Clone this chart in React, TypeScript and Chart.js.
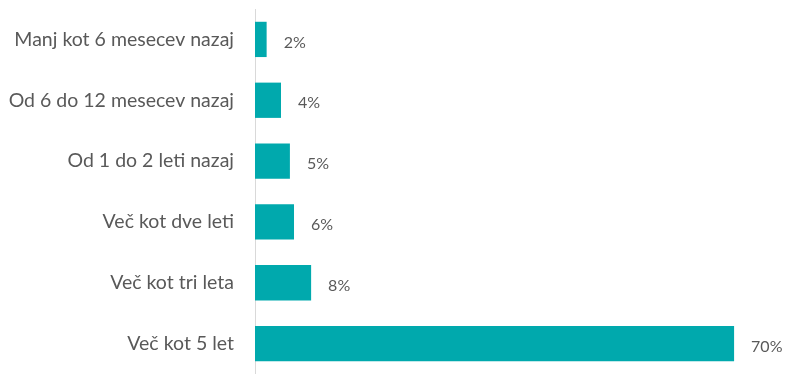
import React, { useEffect, useRef } from "react";
import { Chart, registerables } from "chart.js";

Chart.register(...registerables);

const categories = [
  "Manj kot 6 mesecev nazaj",
  "Od 6 do 12 mesecev nazaj",
  "Od 1 do 2 leti nazaj",
  "Več kot dve leti",
  "Več kot tri leta",
  "Več kot 5 let",
];
const values = [1.7, 3.8, 5.1, 5.7, 8.2, 70];
const valueLabels = ["2%", "4%", "5%", "6%", "8%", "70%"];

const labelPlugin = {
  id: "barLabels",
  afterDatasetsDraw(chart: any) {
    const { ctx } = chart;
    const meta = chart.getDatasetMeta(0);
    ctx.save();
    ctx.font = "16px Lato, sans-serif";
    ctx.fillStyle = "#595959";
    ctx.textAlign = "left";
    ctx.textBaseline = "middle";
    meta.data.forEach((bar: any, i: number) => {
      ctx.fillText(valueLabels[i], bar.x + 17, bar.y + 3);
    });
    ctx.restore();
  },
};

export default function App() {
  const ref = useRef<HTMLCanvasElement>(null);
  useEffect(() => {
    document.body.style.margin = "0";
    const chart = new Chart(ref.current!, {
      type: "bar",
      data: {
        labels: categories,
        datasets: [
          {
            data: values,
            backgroundColor: "#00A9AD",
            borderWidth: 0,
            categoryPercentage: 0.58,
            barPercentage: 1,
          },
        ],
      },
      options: {
        indexAxis: "y",
        animation: false,
        responsive: false,
        layout: { padding: { top: 9, bottom: -4, right: 4, left: 0 } },
        plugins: { legend: { display: false }, tooltip: { enabled: false } },
        scales: {
          x: {
            min: 0,
            max: 77,
            display: false,
          },
          y: {
            grid: { display: false, drawTicks: false },
            border: { display: true, color: "#d9d9d9", width: 1 },
            ticks: {
              padding: 21,
              color: "#595959",
              font: { family: "Lato, sans-serif", size: 19.5 },
            },
            afterFit(scale: any) {
              scale.width = 255;
              scale.paddingTop = 0;
              scale.paddingBottom = 0;
            },
          },
        },
      },
      plugins: [labelPlugin],
    });
    return () => chart.destroy();
  }, []);
  return (
    <div style={{ width: 786, height: 374 }}>
      <canvas ref={ref} width={786} height={374} style={{ display: "block" }} />
    </div>
  );
}
